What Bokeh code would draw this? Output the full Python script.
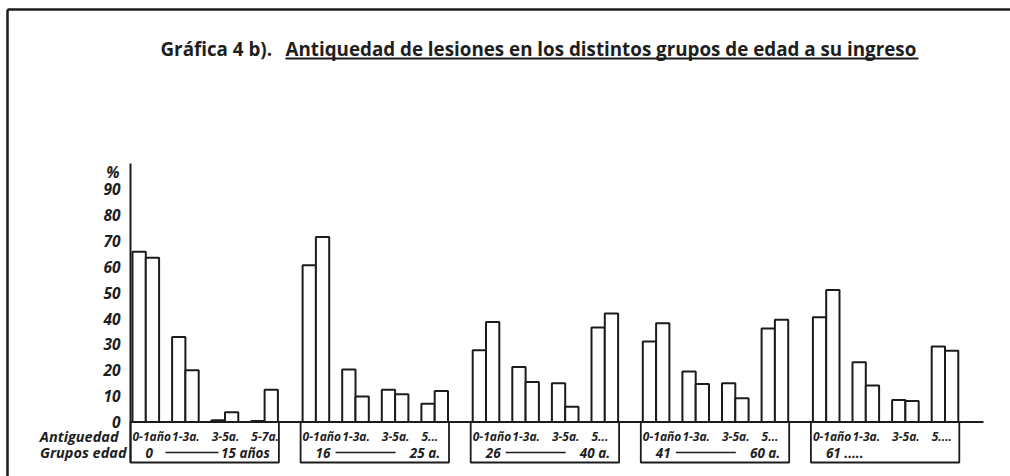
from bokeh.plotting import figure
from bokeh.models import Range1d
from bokeh.embed import file_html
from bokeh.resources import INLINE
from bokeh.core.properties import value

# ---------------- data ----------------
title_prefix = "Gráfica 4 b)."
title_main = "Antiquedad de lesiones en los distintos grupos de edad a su ingreso"
row_label_antiguedad = "Antiguedad"
row_label_grupos = "Grupos edad"

age_group_start = ["0", "16", "26", "41", "61 ....."]
age_group_end = ["15 años", "25 a.", "40 a.", "60 a.", ""]

antiguedad_g1 = ["0-1año", "1-3a.", "3-5a.", "5-7a."]
antiguedad_g2 = ["0-1año", "1-3a.", "3-5a.", "5..."]
antiguedad_g3 = ["0-1año", "1-3a.", "3-5a.", "5..."]
antiguedad_g4 = ["0-1año", "1-3a.", "3-5a.", "5..."]
antiguedad_g5 = ["0-1año", "1-3a.", "3-5a.", "5...."]
antiguedad_labels = [antiguedad_g1, antiguedad_g2, antiguedad_g3, antiguedad_g4, antiguedad_g5]

# left bar / right bar of each pair, per age group (%)
series_a_g1 = [65.8, 32.9, 0.7, 0.4]
series_b_g1 = [63.5, 20.0, 3.8, 12.5]
series_a_g2 = [60.6, 20.3, 12.5, 7.1]
series_b_g2 = [71.5, 9.9, 10.7, 12.0]
series_a_g3 = [27.7, 21.3, 15.0, 36.5]
series_b_g3 = [38.7, 15.5, 5.9, 42.0]
series_a_g4 = [31.1, 19.5, 15.0, 36.2]
series_b_g4 = [38.2, 14.7, 9.2, 39.5]
series_a_g5 = [40.5, 23.1, 8.5, 29.2]
series_b_g5 = [51.0, 14.1, 8.1, 27.6]
series_a = [series_a_g1, series_a_g2, series_a_g3, series_a_g4, series_a_g5]
series_b = [series_b_g1, series_b_g2, series_b_g3, series_b_g4, series_b_g5]

y_ticks = [0, 10, 20, 30, 40, 50, 60, 70, 80, 90]
y_unit_label = "%"

# ---------------- layout (styles) ----------------
W, H = 1010, 476
PX_PER_UNIT = 2.586
ZERO_Y = 421.5  # px from top of figure
y_bottom = -(H - ZERO_Y) / PX_PER_UNIT
y_top = ZERO_Y / PX_PER_UNIT


def py(pix):
    """pixel row from top -> value units"""
    return (ZERO_Y - pix) / PX_PER_UNIT


X0 = 132.0     # left of first bar
GROUP = 170.1
PAIR = 39.6
BAR = 13.3
BOX_BOTTOM = py(462)
INK = "#1c1c1c"
TXT = "#1e1e1e"
FONT = value("Open Sans")

p = figure(width=W, height=H, x_range=Range1d(0, W), y_range=Range1d(y_bottom, y_top),
           output_backend="svg", toolbar_location=None, min_border=0,
           background_fill_color="white", border_fill_color="white")
p.axis.visible = False
p.grid.visible = False
p.outline_line_color = None

# bars
lefts, rights, tops = [], [], []
for g in range(len(series_a)):
    for k in range(len(series_a[g])):
        for j, ser in enumerate((series_a, series_b)):
            l = X0 + g * GROUP + k * PAIR + j * BAR
            lefts.append(l)
            rights.append(l + BAR)
            tops.append(ser[g][k])
p.quad(left=lefts, right=rights, bottom=0, top=tops, fill_color="white",
       line_color=INK, line_width=2)

# label boxes
box_l = [X0 + g * GROUP - 2 for g in range(len(series_a))]
box_r = [X0 + g * GROUP + 3 * PAIR + 2 * BAR + 1 for g in range(len(series_a))]
p.quad(left=box_l, right=box_r, bottom=BOX_BOTTOM, top=0, fill_color=None,
       line_color=INK, line_width=1.8)

# baseline and y axis line
p.segment(x0=[X0 - 2], y0=[0], x1=[983], y1=[0], line_color=INK, line_width=2)
p.segment(x0=[X0 - 2], y0=[py(163)], x1=[X0 - 2], y1=[BOX_BOTTOM], line_color=INK, line_width=2)

# y tick labels
p.text(x=[120] * len(y_ticks), y=y_ticks, text=[str(t) for t in y_ticks],
       text_align="right", text_baseline="middle", text_font=FONT,
       text_font_style="bold italic", text_font_size="15.5px", text_color=TXT)
p.text(x=[119], y=[py(171)], text=[y_unit_label], text_align="right", text_baseline="middle",
       text_font=FONT, text_font_style="bold italic", text_font_size="15.5px", text_color=TXT)

# row labels
ROW1 = py(436)
ROW2 = py(452)
p.text(x=[118], y=[ROW1], text=[row_label_antiguedad], text_align="right", text_baseline="middle",
       text_font=FONT, text_font_style="bold italic", text_font_size="14.5px", text_color=TXT)
p.text(x=[126], y=[ROW2], text=[row_label_grupos], text_align="right", text_baseline="middle",
       text_font=FONT, text_font_style="bold italic", text_font_size="14.5px", text_color=TXT)

# category labels
cx, cy, ct = [], [], []
for g, labs in enumerate(antiguedad_labels):
    for k, lab in enumerate(labs):
        cx.append(X0 + g * GROUP + k * PAIR)
        cy.append(ROW1)
        ct.append(lab)
p.text(x=cx, y=cy, text=ct, text_align="left", text_baseline="middle", text_font=FONT,
       text_font_style="bold italic", text_font_size="12px", text_color=TXT)

# age group labels
sx = [X0 + g * GROUP + 13 for g in range(len(age_group_start))]
p.text(x=sx, y=[ROW2] * len(sx), text=age_group_start, text_align="left", text_baseline="middle",
       text_font=FONT, text_font_style="bold italic", text_font_size="13.5px", text_color=TXT)
ex = [X0 + g * GROUP + 3 * PAIR + 2 * BAR - 8 for g in range(len(age_group_end))]
p.text(x=ex, y=[ROW2] * len(ex), text=age_group_end, text_align="right", text_baseline="middle",
       text_font=FONT, text_font_style="bold italic", text_font_size="13.5px", text_color=TXT)
dash_g = [g for g in range(len(age_group_end)) if age_group_end[g]]
p.segment(x0=[X0 + g * GROUP + 33 for g in dash_g], y0=[ROW2] * len(dash_g),
          x1=[X0 + g * GROUP + (86 if g == 0 else 93) for g in dash_g], y1=[ROW2] * len(dash_g),
          line_color=INK, line_width=1.3)

# title
TITLE_Y = py(48)
p.text(x=[160], y=[TITLE_Y], text=[title_prefix], text_align="left", text_baseline="middle",
       text_font=FONT, text_font_style="bold", text_font_size="18.8px", text_color=TXT)
p.text(x=[285], y=[TITLE_Y], text=[title_main], text_align="left", text_baseline="middle",
       text_font=FONT, text_font_style="bold", text_font_size="18.8px", text_color=TXT)
UL_Y = py(58)
p.segment(x0=[285], y0=[UL_Y], x1=[918], y1=[UL_Y], line_color=INK, line_width=2)

# frame (top and left lines of the scanned sheet)
FR_Y = py(9)
p.segment(x0=[7], y0=[FR_Y], x1=[W], y1=[FR_Y], line_color=INK, line_width=2.5)
p.segment(x0=[7], y0=[FR_Y], x1=[7], y1=[y_bottom], line_color=INK, line_width=2.5)

open("out.html", "w").write(file_html(p, INLINE))
